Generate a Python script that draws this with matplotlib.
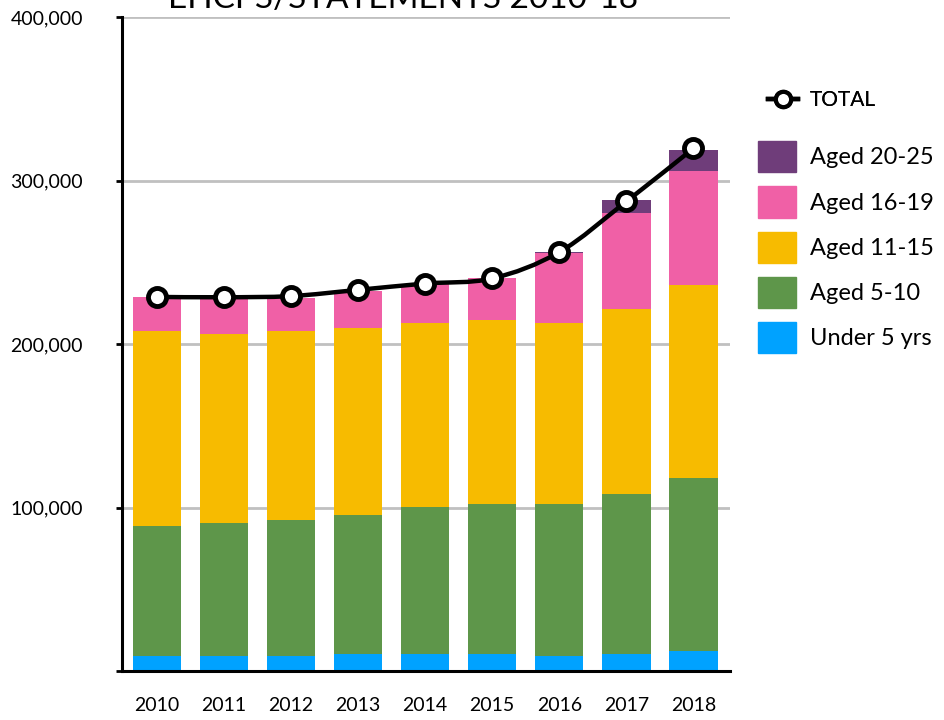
import matplotlib
matplotlib.use("Agg")
from matplotlib import pyplot as plt
from matplotlib.path import Path
from matplotlib.patches import PathPatch, Patch
from matplotlib.lines import Line2D
from matplotlib.ticker import FuncFormatter

# values (thousands)
years = ["2010", "2011", "2012", "2013", "2014", "2015", "2016", "2017", "2018"]
under_5 = [9.4, 9.4, 9.4, 10.6, 10.6, 10.6, 9.4, 10.6, 12.2]
aged_5_10 = [79.3, 81.1, 83.0, 84.8, 89.7, 91.5, 92.7, 97.7, 105.8]
aged_11_15 = [119.3, 115.8, 115.6, 114.4, 112.5, 112.6, 110.9, 113.1, 118.0]
aged_16_19 = [20.6, 21.7, 20.0, 22.6, 24.2, 25.8, 42.5, 58.9, 69.8]
aged_20_25 = [0, 0, 0, 0, 0, 0, 0.8, 7.7, 12.9]
total = [228.9, 228.7, 229.4, 233.2, 237.1, 240.2, 256.3, 287.3, 319.8]

series = [
    ("Under 5 yrs", under_5, "#00a2ff"),
    ("Aged 5-10", aged_5_10, "#5e964a"),
    ("Aged 11-15", aged_11_15, "#f7bb00"),
    ("Aged 16-19", aged_16_19, "#f060a6"),
    ("Aged 20-25", aged_20_25, "#6f3d7a"),
]

plt.rcParams["font.family"] = ["Lato", "DejaVu Sans"]

fig = plt.figure(figsize=(9.44, 7.2), dpi=100)
ax = fig.add_axes([0.129, 0.068, 0.644, 0.908])

x = list(range(len(years)))
bottom = [0] * len(years)
for name, vals, col in series:
    vals_abs = [v * 1000 for v in vals]
    ax.bar(x, vals_abs, width=0.72, bottom=bottom, color=col, zorder=2)
    bottom = [b + v for b, v in zip(bottom, vals_abs)]

# smooth total line (catmull-rom through the points, drawn as bezier path)
pts = [(i, t * 1000) for i, t in zip(x, total)]
verts = [pts[0]]
codes = [Path.MOVETO]
n = len(pts)
for i in range(n - 1):
    p0 = pts[max(i - 1, 0)]
    p1 = pts[i]
    p2 = pts[i + 1]
    p3 = pts[min(i + 2, n - 1)]
    c1 = (p1[0] + (p2[0] - p0[0]) / 6, p1[1] + (p2[1] - p0[1]) / 6)
    c2 = (p2[0] - (p3[0] - p1[0]) / 6, p2[1] - (p3[1] - p1[1]) / 6)
    verts += [c1, c2, p2]
    codes += [Path.CURVE4] * 3
ax.add_patch(PathPatch(Path(verts, codes), fill=False, lw=3.2, ec="black",
                       zorder=4, capstyle="round"))
ax.plot(x, [t * 1000 for t in total], linestyle="none", marker="o", ms=13,
        mfc="white", mec="black", mew=3.5, zorder=5)

ax.set_xlim(-0.52, 8.54)
ax.set_ylim(0, 400000)
ax.set_yticks([0, 100000, 200000, 300000, 400000])
ax.yaxis.set_major_formatter(FuncFormatter(lambda v, p: "" if v == 0 else f"{int(v):,}"))
ax.set_xticks(x)
ax.set_xticklabels(years)
ax.grid(axis="y", color="#c0c0c0", lw=2, zorder=0)
ax.set_axisbelow(True)
for s in ["top", "right"]:
    ax.spines[s].set_visible(False)
ax.spines["left"].set_linewidth(2.2)
ax.spines["bottom"].set_linewidth(2.2)
ax.spines["left"].set_zorder(6)
ax.spines["bottom"].set_zorder(6)
ax.tick_params(axis="y", length=4, width=2, pad=24, labelsize=14)
ax.tick_params(axis="x", length=0, pad=19, labelsize=14)

# title sits partly above the canvas, as in the source image
fig.text(0.427, 0.989, "EHCPS/STATEMENTS 2010-18", ha="center", va="baseline",
         fontsize=24)

# legends
tot_handle = Line2D([], [], color="black", lw=3.2, marker="o", ms=11,
                    mfc="white", mec="black", mew=3)
leg1 = fig.legend([tot_handle], ["TOTAL"], loc="center left",
                  bbox_to_anchor=(0.814, 0.861), frameon=False, fontsize=15,
                  handlelength=1.4, handletextpad=0.6, borderpad=0,
                  borderaxespad=0)
fig.add_artist(leg1)
handles = [Patch(color=c) for _, _, c in series][::-1]
labels = [nm for nm, _, _ in series][::-1]
fig.legend(handles, labels, loc="upper left", bbox_to_anchor=(0.803, 0.804),
           frameon=False, fontsize=17, handlelength=1.6, handleheight=1.65,
           labelspacing=0.6, handletextpad=0.6, borderpad=0, borderaxespad=0)

fig.savefig("out.png", dpi=100)
